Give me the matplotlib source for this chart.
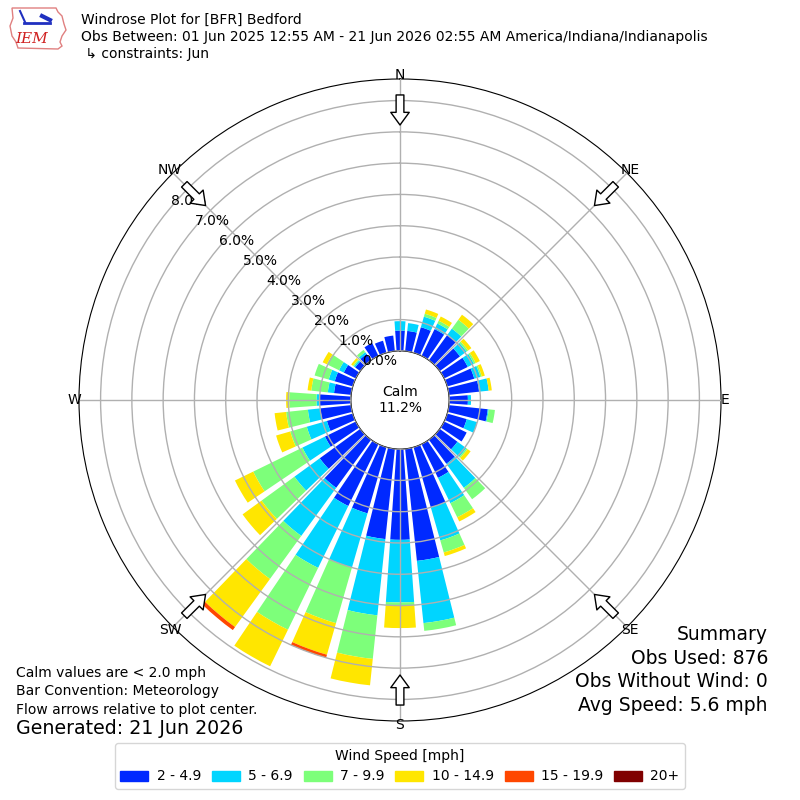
import numpy as np
import matplotlib
matplotlib.use("Agg")
import matplotlib.pyplot as plt
from matplotlib.patches import Patch, Polygon

# wind direction bins (degrees, direction wind blows from)
directions = list(range(0, 360, 10))

# percent of obs per direction bin, one list per speed bin
speed_2_5 = [0.65, 0.65, 0.85, 0.95, 1.00, 0.80, 0.84, 0.90, 0.97, 0.60,
             1.25, 0.65, 0.80, 0.70, 0.95, 1.20, 2.00, 3.60, 2.90, 2.90,
             2.20, 2.20, 1.90, 1.60, 1.10, 0.86, 0.99, 1.00, 0.55, 0.60,
             0.43, 0.20, 0.25, 0.46, 0.40, 0.50]
speed_5_7 = [0.30, 0.25, 0.35, 0.20, 0.25, 0.26, 0.22, 0.20, 0.31, 0.10,
             0.03, 0.35, 0.00, 0.35, 0.95, 0.90, 1.10, 2.00, 2.00, 2.45,
             1.80, 2.20, 1.90, 1.00, 0.80, 0.67, 0.40, 0.10, 0.20, 0.20,
             0.17, 0.05, 0.07, 0.00, 0.00, 0.00]
speed_7_10 = [0.00, 0.00, 0.10, 0.10, 0.35, 0.06, 0.06, 0.05, 0.00, 0.00,
              0.20, 0.00, 0.00, 0.05, 0.45, 0.50, 0.40, 0.25, 0.10, 1.40,
              1.85, 2.20, 1.70, 1.30, 1.75, 0.55, 0.70, 0.87, 0.53, 0.47,
              0.43, 0.04, 0.09, 0.00, 0.00, 0.00]
speed_10_15 = [0.00, 0.00, 0.14, 0.15, 0.20, 0.13, 0.15, 0.10, 0.10, 0.00,
               0.00, 0.00, 0.00, 0.12, 0.00, 0.15, 0.12, 0.00, 0.72, 0.85,
               1.05, 1.30, 1.90, 0.75, 0.65, 0.47, 0.37, 0.10, 0.12, 0.00,
               0.15, 0.07, 0.00, 0.00, 0.00, 0.00]
speed_15_20 = [0.00] * 20 + [0.10, 0.00, 0.12] + [0.00] * 13
speed_20_up = [0.00] * 36

speed_labels = ["2 - 4.9", "5 - 6.9", "7 - 9.9", "10 - 14.9", "15 - 19.9", "20+"]
compass_labels = ["N", "NE", "E", "SE", "S", "SW", "W", "NW"]

calm_pct = 11.2
obs_used = 876
obs_no_wind = 0
avg_speed = 5.6

title_lines = [
    "Windrose Plot for [BFR] Bedford",
    "Obs Between: 01 Jun 2025 12:55 AM - 21 Jun 2026 02:55 AM America/Indiana/Indianapolis",
    " \u21b3 constraints: Jun",
]


def draw_logo(fig):
    # rough stand-in for the IEM logo (state outline, barb, letters)
    pts = [(12, 8), (56, 8), (58, 12), (62, 16), (64, 24), (66, 30),
           (62, 36), (60, 42), (62, 46), (58, 49), (18, 48), (16, 42),
           (12, 36), (10, 26), (13, 18)]
    pts = [(x / 800.0, 1 - y / 800.0) for x, y in pts]
    fig.patches.append(Polygon(pts, closed=True, fill=False, ec="#e08080",
                               lw=1.0, transform=fig.transFigure))
    fig.lines.append(plt.Line2D([24 / 800, 50 / 800], [1 - 23 / 800, 1 - 23 / 800],
                                color="#2030c0", lw=2, transform=fig.transFigure))
    fig.lines.append(plt.Line2D([20 / 800, 25 / 800], [1 - 11 / 800, 1 - 22 / 800],
                                color="#2030c0", lw=1.5, transform=fig.transFigure))
    fig.lines.append(plt.Line2D([42 / 800, 50 / 800], [1 - 16 / 800, 1 - 20 / 800],
                                color="#2030c0", lw=3, transform=fig.transFigure))
    fig.text(32 / 800, 1 - 39 / 800, "IEM", color="#d02020", fontsize=11,
             family="DejaVu Serif", style="italic", ha="center", va="center")


def create_windrose():
    fig = plt.figure(figsize=(8, 8), dpi=100)
    rad = 321.0 / 800
    ax = fig.add_axes([0.5 - rad, 0.5 - rad, 2 * rad, 2 * rad], projection="polar")
    ax.set_theta_zero_location("N")
    ax.set_theta_direction(-1)

    theta = np.deg2rad(directions)
    width = np.deg2rad(10) * 0.8
    series = [speed_2_5, speed_5_7, speed_7_10, speed_10_15, speed_15_20, speed_20_up]
    colors = plt.cm.jet(np.arange(1, 7) / 6.0)

    bottom = np.zeros(len(directions))
    for vals, col in zip(series, colors):
        vals = np.array(vals)
        ax.bar(theta, vals, width=width, bottom=bottom, color=col, lw=0, zorder=1)
        bottom = bottom + vals

    rmax = bottom.max() * 1.1
    ax.set_rorigin(-1.57)
    ax.set_ylim(0, rmax)
    ax.set_axisbelow(False)
    ax.grid(True, color="#b0b0b0", lw=1)

    ax.set_yticks(np.arange(0, 9))
    ax.set_yticklabels(["%.1f%%" % v for v in range(0, 9)], fontsize=10)
    ax.set_rlabel_position(310)
    ax.set_xticks(np.deg2rad(np.arange(0, 360, 45)))
    ax.set_xticklabels(compass_labels, fontsize=10)
    ax.tick_params(axis="x", pad=-7.5)

    # flow arrows, pointing to plot center
    for d in range(0, 360, 45):
        t = np.deg2rad(d)
        ax.annotate("", xy=(t, 7.22), xytext=(t, 8.18), zorder=5,
                    arrowprops=dict(arrowstyle="simple,head_width=0.95,head_length=0.65,tail_width=0.4",
                                    fc="white", ec="black", lw=1,
                                    mutation_scale=14, shrinkA=0, shrinkB=0))

    ax.text(0, -1.57, "Calm\n%.1f%%" % calm_pct, ha="center", va="center",
            fontsize=10, zorder=6)

    for i, line in enumerate(title_lines):
        fig.text(81 / 800, 1 - (20 + 17 * i) / 800, line, fontsize=10, va="center")
    draw_logo(fig)

    summary = ["Summary", "Obs Used: %d" % obs_used,
               "Obs Without Wind: %d" % obs_no_wind, "Avg Speed: %.1f mph" % avg_speed]
    for i, line in enumerate(summary):
        fig.text(768 / 800, 1 - (635 + 23.4 * i) / 800, line, fontsize=13.5,
                 ha="right", va="center")

    notes = ["Calm values are < 2.0 mph", "Bar Convention: Meteorology",
             "Flow arrows relative to plot center."]
    for i, line in enumerate(notes):
        fig.text(16 / 800, 1 - (673 + 18.5 * i) / 800, line, fontsize=10, va="center")
    fig.text(16 / 800, 1 - 729 / 800, "Generated: 21 Jun 2026", fontsize=13.7, va="center")

    handles = [Patch(color=c) for c in colors]
    fig.legend(handles, speed_labels, loc="lower center", ncol=6,
               bbox_to_anchor=(0.5, 0.005), title="Wind Speed [mph]", fontsize=10,
               title_fontsize=10, columnspacing=0.8, handletextpad=0.6)

    fig.savefig("out.png", dpi=100)


def main():
    create_windrose()


if __name__ == "__main__":
    main()
